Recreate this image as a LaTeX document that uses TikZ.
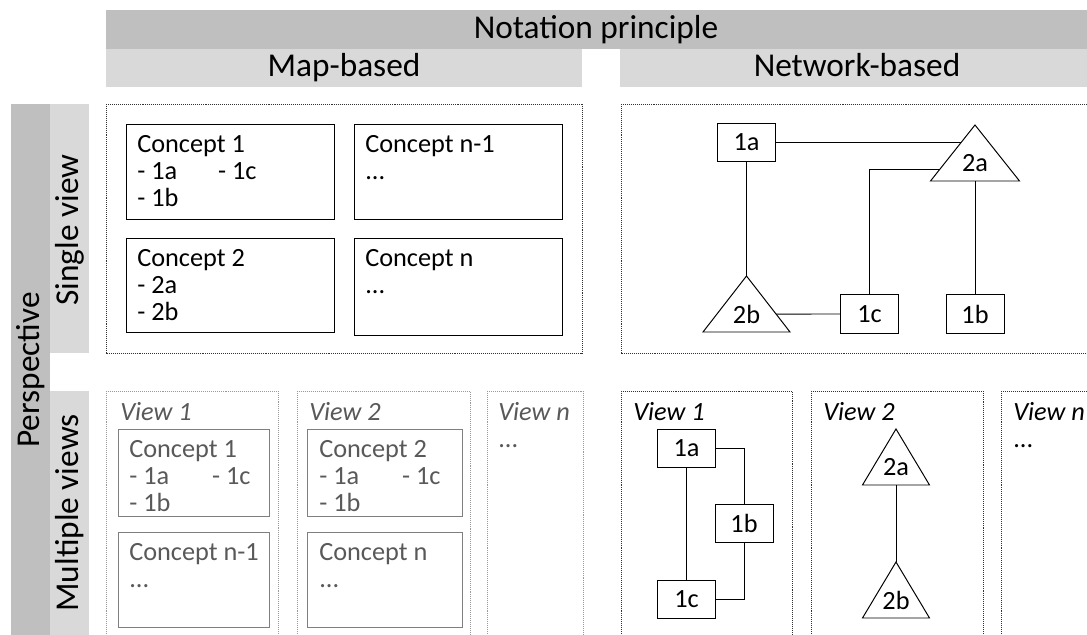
\documentclass[tikz,border=0pt]{standalone}
\usepackage{fontspec}
\setmainfont{Carlito}
\usetikzlibrary{calc}
\definecolor{bardark}{RGB}{191,191,191}
\definecolor{barlight}{RGB}{217,217,217}
\definecolor{faded}{RGB}{89,89,89}
\definecolor{fadedline}{RGB}{127,127,127}
\tikzset{bigtext/.style = {font=\fontsize{23.7}{27}\selectfont, inner sep=0}}
\tikzset{sidetext/.style = {bigtext, rotate=90, anchor=base}}
\tikzset{frame/.style = {draw=black!80, line width=0.6pt, dash pattern=on 0.7pt off 0.7pt}}
\tikzset{fadedframe/.style = {frame, draw=black!40}}
\tikzset{cbox/.style = {draw, line width=0.7pt}}
\tikzset{fadedbox/.style = {cbox, draw=fadedline}}
\tikzset{ctext/.style = {font=\fontsize{18.7}{19.2}\selectfont, align=left, anchor=north west, inner sep=0}}
\tikzset{fadedtext/.style = {ctext, text=faded}}
\tikzset{netbox/.style = {draw, line width=0.7pt, minimum width=1.45cm, minimum height=0.95cm,
                          inner sep=0, font=\fontsize{18.7}{19.2}\selectfont}}
\tikzset{tritext/.style = {inner sep=0, font=\fontsize{18.7}{19.2}\selectfont}}
\tikzset{link/.style = {line width=0.7pt}}

\begin{document}
\begin{tikzpicture}[x=0.025cm, y=-0.025cm]
    \useasboundingbox (0,0) rectangle (1087,635);

    % headings
    \fill [bardark] (106,10) rectangle (1087,49);
    \fill [barlight] (106,49) rectangle (582,87);
    \fill [barlight] (620,49) rectangle (1087,87);
    \fill [bardark] (11,104) rectangle (50,635);
    \fill [barlight] (50,104) rectangle (89,353);
    \fill [barlight] (50,391) rectangle (89,635);
    \node [bigtext, anchor=base] (notation) at (596,38.5) {Notation principle};
    \node [bigtext, anchor=base] (mapbased) at (344,76.5) {Map-based};
    \node [bigtext, anchor=base] (netbased) at (857,76.5) {Network-based};
    \node [sidetext] (perspective) at (39.5,370) {Perspective};
    \node [sidetext] (single) at (78.5,230) {Single view};
    \node [sidetext] (multiple) at (78.5,513) {Multiple views};

    % map-based, single view
    \draw [frame] (106,104) rectangle (582,353);
    \draw [cbox] (126,124) rectangle (334,219);
    \draw [cbox] (354,124) rectangle (562,219);
    \draw [cbox] (126,238) rectangle (334,332);
    \draw [cbox] (354,238) rectangle (562,335);
    \node [ctext] (concept1) at (137,135) {Concept 1\\\makebox[2.02cm][l]{- 1a}- 1c\\- 1b};
    \node [ctext] (conceptn1) at (365,135) {Concept n-1\\...};
    \node [ctext] (concept2) at (137,249) {Concept 2\\- 2a\\- 2b};
    \node [ctext] (conceptn) at (365,249) {Concept n\\...};

    % map-based, multiple views
    \foreach \a/\b in {106/278, 297/470, 487/583} {
      \draw [fadedframe] (\a,391) rectangle (\b,640);
    }
    \draw [fadedbox] (118,429) rectangle (269,516);
    \draw [fadedbox] (118,532) rectangle (269,627);
    \draw [fadedbox] (307,429) rectangle (462,516);
    \draw [fadedbox] (307,532) rectangle (462,627);
    \node [fadedtext, font=\fontsize{18.7}{19.2}\selectfont\itshape] (mview1) at (120,402) {View 1};
    \node [fadedtext, font=\fontsize{18.7}{19.2}\selectfont\itshape] (mview2) at (309,402) {View 2};
    \node [fadedtext] (mviewn) at (498,402) {\textit{View n}\\...};
    \node [fadedtext] (mconcept1) at (129,440) {Concept 1\\\makebox[2.07cm][l]{- 1a}- 1c\\- 1b};
    \node [fadedtext] (mconceptn1) at (129,543) {Concept n-1\\...};
    \node [fadedtext] (mconcept2) at (319,440) {Concept 2\\\makebox[2.07cm][l]{- 1a}- 1c\\- 1b};
    \node [fadedtext] (mconceptn) at (319,543) {Concept n\\...};

    % network-based, single view
    \draw [frame] (621,104) rectangle (1095,353);
    \node [netbox] (s1a) at (746.5,142.5) {1a};
    \node [netbox] (s1c) at (869.5,314) {1c};
    \node [netbox] (s1b) at (975,314) {1b};
    \foreach \n/\t/\x/\y/\w in {s2a/2a/975/125/44.5, s2b/2b/746.5/276/43.5,
                                m2a/2a/896/429/33.5, m2b/2b/896/562/33.5} {
      \coordinate (top \n) at (\x,\y);
      \coordinate (left \n) at (\x-\w,\y+56);
      \coordinate (right \n) at (\x+\w,\y+56);
      \draw [link] (top \n) -- (left \n) -- (right \n) -- cycle;
      \node [tritext] (\n) at (\x,\y+38) {\t};
    }
    \draw [link] (s1a.east) -- ($(top s2a)!0.3125!(left s2a)$);
    \draw [link] (s1a.south) -- (top s2b);
    \draw [link] (s1c.west) -- ($(top s2b)!0.679!(right s2b)$);
    \draw [link] (s1c.north) |- ($(top s2a)!0.786!(left s2a)$);
    \draw [link] (s1b.north) -- (s1b.north |- left s2a);

    % network-based, multiple views
    \foreach \a/\b in {621/792, 811/983, 1001/1095} {
      \draw [frame] (\a,391) rectangle (\b,640);
    }
    \node [ctext, font=\fontsize{18.7}{19.2}\selectfont\itshape] (nview1) at (633,402) {View 1};
    \node [ctext, font=\fontsize{18.7}{19.2}\selectfont\itshape] (nview2) at (823,402) {View 2};
    \node [ctext] (nviewn) at (1013,402) {\textit{View n}\\...};
    \node [netbox] (m1a) at (686.5,448.5) {1a};
    \node [netbox] (m1b) at (744,523) {1b};
    \node [netbox] (m1c) at (686.5,599) {1c};
    \draw [link] (m1a) -- (m1c);
    \draw [link] (m1a.east) -| (m1b.north);
    \draw [link] (m1b.south) |- (m1c.east);
    \draw [link] (top m2a |- left m2a) -- (top m2b);
\end{tikzpicture}
\end{document}
